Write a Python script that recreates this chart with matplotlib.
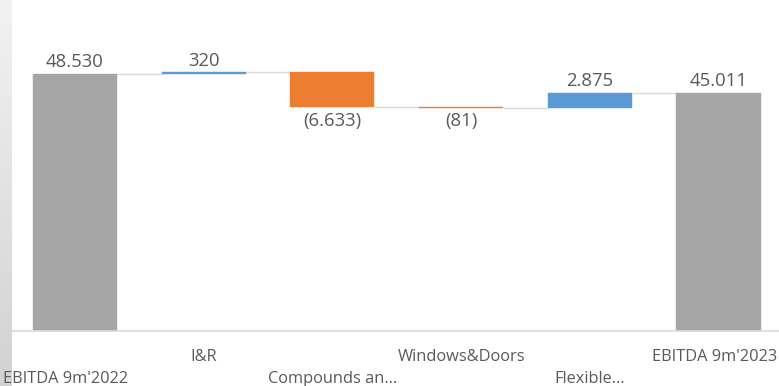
import matplotlib
matplotlib.use("Agg")
import matplotlib.pyplot as plt
import matplotlib.transforms as mtransforms
import numpy as np
from matplotlib.colors import LinearSegmentedColormap

categories = ["EBITDA 9m'2022", "I&R", "Compounds an…", "Windows&Doors", "Flexible…", "EBITDA 9m'2023"]
values = [48530, 320, -6633, -81, 2875, 45011]
kinds = ["total", "delta", "delta", "delta", "delta", "total"]

GRAY = "#a5a5a5"
ORANGE = "#ed7d31"
BLUE = "#5b9bd5"
TXT = "#595959"
plt.rcParams['font.family'] = ['Open Sans', 'DejaVu Sans']

def fmt(v):
    s = f"{abs(v):,}".replace(",", ".")
    return f"({s})" if v < 0 else s

W, H = 779, 386
fig = plt.figure(figsize=(W / 100, H / 100), dpi=100, facecolor="white")

# left slide shadow strip
sax = fig.add_axes([0, 0, 12 / W, 1], zorder=0)
grad = np.linspace(0, 1, 256).reshape(-1, 1)
cm = LinearSegmentedColormap.from_list("s", ["#f2f2f2", "#d2d2d2"])
sax.imshow(grad, aspect="auto", cmap=cm, extent=[0, 1, 0, 1], origin="upper")
sax.axis("off")

left = 10.65 / W
width = 772.2 / W
bottom = 55 / H
ax = fig.add_axes([left, bottom, width, 1 - bottom], zorder=1)
ax.set_facecolor("none")

x = np.arange(len(categories))
bw = 0.653
running = 0
tops, bots, colors, levels = [], [], [], []
for k, v in zip(kinds, values):
    if k == "total":
        b, t = 0, v
        running = v
        c = GRAY
    else:
        start = running
        running = running + v
        b, t = min(start, running), max(start, running)
        c = BLUE if v > 0 else ORANGE
    bots.append(b)
    tops.append(t)
    colors.append(c)
    levels.append(running)

heights = [t - b for t, b in zip(tops, bots)]
ax.bar(x, heights, bottom=bots, width=bw, color=colors, edgecolor=colors, linewidth=0.3, zorder=3)

# connectors
for i in range(len(x) - 1):
    ax.plot([x[i] + bw / 2, x[i + 1] - bw / 2], [levels[i], levels[i]],
            color="#d9d9d9", lw=1.0, zorder=2, solid_capstyle="butt")

# data labels
for i, v in enumerate(values):
    if v >= 0:
        ax.annotate(fmt(v), (x[i], tops[i]), xytext=(0, 2), textcoords="offset points",
                    ha="center", va="bottom", fontsize=13.3, color=TXT)
    else:
        ax.annotate(fmt(v), (x[i], bots[i]), xytext=(0, -3), textcoords="offset points",
                    ha="center", va="top", fontsize=13.3, color=TXT)

ax.set_xlim(-0.5, len(x) - 0.5)
ax.set_ylim(0, 62500)
ax.set_yticks([])
for s in ["top", "right", "left"]:
    ax.spines[s].set_visible(False)
ax.spines["bottom"].set_color("#d9d9d9")
ax.spines["bottom"].set_linewidth(1.2)
ax.spines["bottom"].set_zorder(4)

ax.set_xticks(x)
ax.set_xticklabels(categories, fontsize=11.8, color=TXT)
ax.tick_params(axis="x", length=0)
for i, tick in enumerate(ax.xaxis.get_major_ticks()):
    tick.set_pad(28.5 if i % 2 == 0 else 13.0)

# keep the edge labels inside the picture
labels = ax.get_xticklabels()
shift_first = mtransforms.ScaledTranslation(-9 / 100, 0, fig.dpi_scale_trans)
shift_last = mtransforms.ScaledTranslation(-4 / 100, 0, fig.dpi_scale_trans)
labels[0].set_transform(labels[0].get_transform() + shift_first)
labels[-1].set_transform(labels[-1].get_transform() + shift_last)

fig.savefig("out.png", dpi=100, facecolor="white")
